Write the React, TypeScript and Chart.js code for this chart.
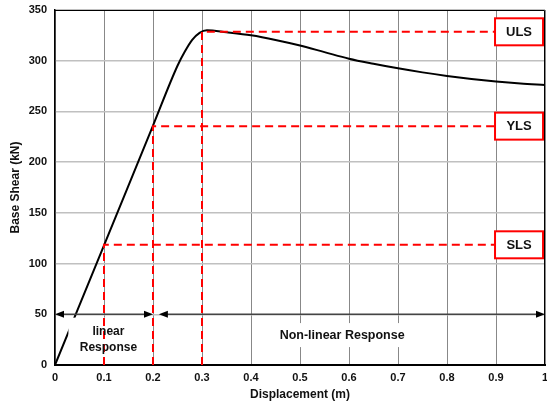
import React, { useEffect, useRef } from "react";
import { Chart, registerables } from "chart.js";
Chart.register(...registerables);

// Pushover curve (displacement m, base shear kN)
const curveDisp = [0, 0.1, 0.2, 0.25, 0.265, 0.28, 0.295, 0.31, 0.35, 0.4, 0.45, 0.5, 0.55, 0.6, 0.65, 0.7, 0.75, 0.8, 0.85, 0.9, 0.95, 1.0];
const curveShear = [0, 118, 236, 295, 309, 320.5, 327.5, 330, 328, 325, 320.5, 315, 308.5, 302, 297, 292.5, 288.5, 285, 282, 279.5, 277.5, 276];

// Limit states
const levelNames = ["SLS", "YLS", "ULS"];
const levelDisp = [0.1, 0.2, 0.3];
const levelShear = [118.5, 235.5, 328.5];
const levelBoxDisp = 0.947;

// Ticks
const xTickValues = [0, 0.1, 0.2, 0.3, 0.4, 0.5, 0.6, 0.7, 0.8, 0.9, 1];
const yTickValues = [0, 50, 100, 150, 200, 250, 300, 350];

// Response region annotations
const arrowShear = 50;
const arrowStart = [0, 0.212];
const arrowEnd = [0.2, 1.0];
const regionText = [["linear", "Response"], ["Non-linear Response"]];
const regionDisp = [0.109, 0.586];
const regionShear = [25, 29.5];

const FONT = "'Liberation Sans', Arial, sans-serif";

const overlay = {
  id: "overlay",
  afterDatasetDraw(chart: any, args: any) {
    if (args.index !== 0) return;
    const { ctx } = chart;
    const x = chart.scales.x;
    const y = chart.scales.y;
    ctx.save();
    ctx.fillStyle = "#ffffff";
    const lx = x.getPixelForValue(regionDisp[0]);
    const ly = y.getPixelForValue(regionShear[0]);
    ctx.fillRect(lx - 40, ly - 22, 80, 45);
    const nx = x.getPixelForValue(regionDisp[1]);
    const ny = y.getPixelForValue(regionShear[1]);
    ctx.fillRect(nx - 67, ny - 12, 134, 24);
    ctx.restore();
  },
  afterDatasetsDraw(chart: any) {
    const { ctx, chartArea } = chart;
    const x = chart.scales.x;
    const y = chart.scales.y;
    ctx.save();
    // region labels
    ctx.fillStyle = "#111";
    ctx.textAlign = "center";
    ctx.textBaseline = "middle";
    regionText.forEach((lines, i) => {
      ctx.font = `bold ${i === 0 ? 12 : 12.5}px ${FONT}`;
      const cx = x.getPixelForValue(regionDisp[i]);
      const cy = y.getPixelForValue(regionShear[i]);
      const lh = 15.5;
      lines.forEach((t, j) => {
        ctx.fillText(t, cx, cy + (j - (lines.length - 1) / 2) * lh);
      });
    });
    // arrows
    const ay = y.getPixelForValue(arrowShear);
    arrowStart.forEach((s, i) => {
      const x0 = x.getPixelForValue(s);
      const x1 = x.getPixelForValue(arrowEnd[i]);
      ctx.strokeStyle = "#444";
      ctx.lineWidth = 1.5;
      ctx.beginPath();
      ctx.moveTo(x0 + 6, ay);
      ctx.lineTo(x1 - 6, ay);
      ctx.stroke();
      ctx.fillStyle = "#000";
      ctx.beginPath();
      ctx.moveTo(x0, ay);
      ctx.lineTo(x0 + 9, ay - 3.5);
      ctx.lineTo(x0 + 9, ay + 3.5);
      ctx.closePath();
      ctx.fill();
      ctx.beginPath();
      ctx.moveTo(x1, ay);
      ctx.lineTo(x1 - 9, ay - 3.5);
      ctx.lineTo(x1 - 9, ay + 3.5);
      ctx.closePath();
      ctx.fill();
    });
    // limit state boxes
    ctx.font = `bold 13px ${FONT}`;
    levelNames.forEach((name, i) => {
      const cx = x.getPixelForValue(levelBoxDisp);
      const cy = y.getPixelForValue(levelShear[i]);
      ctx.fillStyle = "#fff";
      ctx.fillRect(cx - 24, cy - 13.5, 48, 27);
      ctx.strokeStyle = "#ff0000";
      ctx.lineWidth = 2;
      ctx.strokeRect(cx - 24, cy - 13.5, 48, 27);
      ctx.fillStyle = "#111";
      ctx.fillText(name, cx, cy + 0.5);
    });
    // top and right frame
    ctx.strokeStyle = "#000";
    ctx.lineWidth = 1;
    ctx.beginPath();
    ctx.moveTo(chartArea.left, chartArea.top + 0.5);
    ctx.lineTo(chartArea.right - 0.5, chartArea.top + 0.5);
    ctx.lineTo(chartArea.right - 0.5, chartArea.bottom);
    ctx.stroke();
    ctx.restore();
  },
};

export default function App() {
  const ref = useRef<HTMLCanvasElement>(null);
  useEffect(() => {
    document.body.style.margin = "0";
    const canvas = ref.current!;
    const curve = curveDisp.map((d, i) => ({ x: d, y: curveShear[i] }));
    const levelSets = levelNames.map((n, i) => ({
      label: n,
      data: [
        { x: levelDisp[i], y: 0 },
        { x: levelDisp[i], y: levelShear[i] },
        { x: 1, y: levelShear[i] },
      ],
      borderColor: "#ff0000",
      borderWidth: 2,
      borderDash: [8, 5],
      pointRadius: 0,
      tension: 0,
      order: 1,
    }));
    const chart = new Chart(canvas, {
      type: "line",
      data: {
        datasets: [
          {
            label: "Capacity curve",
            data: curve,
            borderColor: "#000",
            borderWidth: 2,
            pointRadius: 0,
            cubicInterpolationMode: "monotone",
            order: 2,
          } as any,
          ...levelSets,
        ],
      },
      options: {
        responsive: false,
        animation: false,
        layout: { padding: { left: 0, top: 10, right: 2, bottom: 0 } },
        plugins: { legend: { display: false }, tooltip: { enabled: false } },
        scales: {
          x: {
            type: "linear",
            min: 0,
            max: 1,
            afterBuildTicks: (s: any) => {
              s.ticks = xTickValues.map((v) => ({ value: v }));
            },
            afterFit: (s: any) => {
              s.height = 39;
              s.paddingLeft = 0;
              s.paddingRight = 0;
            },
            grid: { color: "#888", lineWidth: 1, drawTicks: false },
            border: { color: "#000", width: 2 },
            ticks: {
              padding: 6,
              color: "#111",
              font: { family: FONT, size: 11, weight: "bold" },
              maxRotation: 0,
              autoSkip: false,
              callback: (v: any) => Number(v).toFixed(1).replace(/\.0$/, ""),
            },
            title: {
              display: true,
              text: "Displacement (m)",
              color: "#111",
              font: { family: FONT, size: 12, weight: "bold" },
              padding: { top: 0, bottom: 2 },
            },
          },
          y: {
            type: "linear",
            min: 0,
            max: 350,
            afterBuildTicks: (s: any) => {
              s.ticks = yTickValues.map((v) => ({ value: v }));
            },
            afterFit: (s: any) => {
              s.width = 55;
              s.paddingTop = 0;
              s.paddingBottom = 0;
            },
            grid: { color: "#c0c0c0", lineWidth: 1.5, drawTicks: false },
            border: { color: "#000", width: 1.5 },
            ticks: {
              padding: 8,
              color: "#111",
              font: { family: FONT, size: 11, weight: "bold" },
            },
            title: {
              display: true,
              text: "Base Shear (kN)",
              color: "#111",
              font: { family: FONT, size: 12, weight: "bold" },
              padding: { top: 8, bottom: 0 },
            },
          },
        },
      },
      plugins: [overlay],
    });
    return () => chart.destroy();
  }, []);
  return <canvas ref={ref} width={547} height={404} style={{ display: "block" }} />;
}
